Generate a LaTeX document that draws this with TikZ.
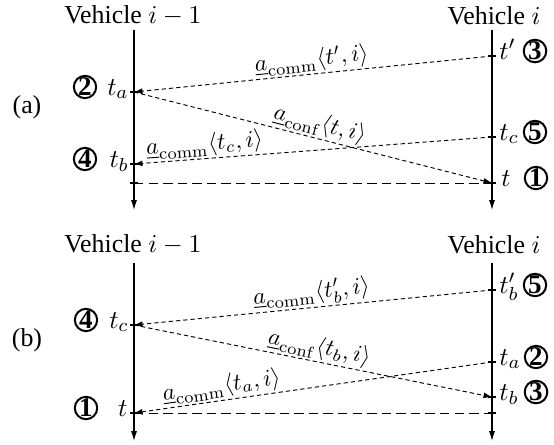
\documentclass[tikz,border=0pt]{standalone}
\usepackage[no-math]{fontspec}
\setmainfont{Liberation Serif}
\usetikzlibrary{arrows.meta}
\begin{document}
\begin{tikzpicture}[x={(0.4255pt,0)},y={(0,-0.4255pt)},
  axis/.style={line width=0.5pt,-{Latex[length=4.2pt,width=2.6pt]}},
  msg/.style={line width=0.4pt,dash pattern=on 1.8pt off 1.3pt,-{Latex[length=3.6pt,width=2.5pt]}},
  sync/.style={line width=0.4pt,dash pattern=on 4pt off 2.2pt},
  lbl/.style={sloped,above,inner sep=0.8pt},
  tickmark/.style={line width=0.45pt},
  circnum/.style={circle,draw,line width=0.85pt,minimum size=9.2pt,inner sep=0pt,font=\fontsize{11.5}{12}\selectfont\bfseries},
  vlabel/.style={inner sep=0pt,font=\fontsize{11}{13}\selectfont},
  tlabel/.style={inner sep=0pt,font=\fontsize{10.8}{13}\selectfont}]
\useasboundingbox (0,0) rectangle (554,444);
% ---------------- (a) ----------------
\node[vlabel] (aVL) at (133,16) {Vehicle $i-1$};
\node[vlabel] (aVR) at (494,16) {Vehicle $i$};
\node[vlabel] (atag) at (27,107) {(a)};
\coordinate (aLtop) at (134,30);
\coordinate (aLbot) at (134,210);
\coordinate (aRtop) at (492,30);
\coordinate (aRbot) at (492,210);
\draw[axis] (aLtop) -- (aLbot);
\draw[axis] (aRtop) -- (aRbot);
\coordinate (aLta) at (134,92);
\coordinate (aLtb) at (134,164);
\coordinate (aLt) at (134,183);
\coordinate (aRtp) at (492,56);
\coordinate (aRtc) at (492,137);
\coordinate (aRt) at (492,183);
\foreach \p in {aLta,aLtb,aLt,aRtp,aRtc,aRt}
  \draw[tickmark] ([xshift=-1.7pt]\p) -- ([xshift=1.7pt]\p);
\draw[msg] (aRtp) -- node[lbl,pos=0.5] {$\underline{a}_{\mathrm{comm}}\langle t',i\rangle$} (aLta);
\draw[msg] (aLta) -- node[lbl,pos=0.51] {$\underline{a}_{\mathrm{conf}}\langle t,i\rangle$} (aRt);
\draw[msg] (aRtc) -- node[lbl,pos=0.8] {$\underline{a}_{\mathrm{comm}}\langle t_c,i\rangle$} (aLtb);
\draw[sync] (aLt) -- (aRt);
\node[tlabel,anchor=base east] (aLtaL) at (129,95) {$t_a$};
\node[circnum] (aLtaC) at (85,87) {2};
\node[tlabel,anchor=base east] (aLtbL) at (129,167) {$t_b$};
\node[circnum] (aLtbC) at (85,159) {4};
\node[tlabel,anchor=base west] (aRtpL) at (499,59) {$t'$};
\node[circnum] (aRtpC) at (535,51) {3};
\node[tlabel,anchor=base west] (aRtcL) at (499,140) {$t_c$};
\node[circnum] (aRtcC) at (535,132) {5};
\node[tlabel,anchor=base west] (aRtL) at (501,186) {$t$};
\node[circnum] (aRtC) at (536,178) {1};
% ---------------- (b) ----------------
\node[vlabel] (bVL) at (133,245) {Vehicle $i-1$};
\node[vlabel] (bVR) at (494,245) {Vehicle $i$};
\node[vlabel] (btag) at (27,340) {(b)};
\coordinate (bLtop) at (134,263);
\coordinate (bLbot) at (134,441);
\coordinate (bRtop) at (492,263);
\coordinate (bRbot) at (492,441);
\draw[axis] (bLtop) -- (bLbot);
\draw[axis] (bRtop) -- (bRbot);
\coordinate (bLtc) at (134,325);
\coordinate (bLt) at (134,413);
\coordinate (bRtbp) at (492,290);
\coordinate (bRta) at (492,362);
\coordinate (bRtb) at (492,397);
\coordinate (bRt) at (492,413);
\foreach \p in {bLtc,bLt,bRtbp,bRta,bRtb,bRt}
  \draw[tickmark] ([xshift=-1.7pt]\p) -- ([xshift=1.7pt]\p);
\draw[msg] (bRtbp) -- node[lbl,pos=0.5] {$\underline{a}_{\mathrm{comm}}\langle t_b',i\rangle$} (bLtc);
\draw[msg] (bLtc) -- node[lbl,pos=0.51] {$\underline{a}_{\mathrm{conf}}\langle t_b,i\rangle$} (bRtb);
\draw[msg] (bRta) -- node[lbl,pos=0.75] {$\underline{a}_{\mathrm{comm}}\langle t_a,i\rangle$} (bLt);
\draw[sync] (bLt) -- (bRt);
\node[tlabel,anchor=base east] (bLtcL) at (129,328) {$t_c$};
\node[circnum] (bLtcC) at (86,320) {4};
\node[tlabel,anchor=base east] (bLtL) at (128,416) {$t$};
\node[circnum] (bLtC) at (86,408) {1};
\node[tlabel,anchor=base west] (bRtbpL) at (499,293) {$t_b'$};
\node[circnum] (bRtbpC) at (535,285) {5};
\node[tlabel,anchor=base west] (bRtaL) at (499,365) {$t_a$};
\node[circnum] (bRtaC) at (536,357) {2};
\node[tlabel,anchor=base west] (bRtbL) at (499,400) {$t_b$};
\node[circnum] (bRtbC) at (536,392) {3};
\end{tikzpicture}
\end{document}
